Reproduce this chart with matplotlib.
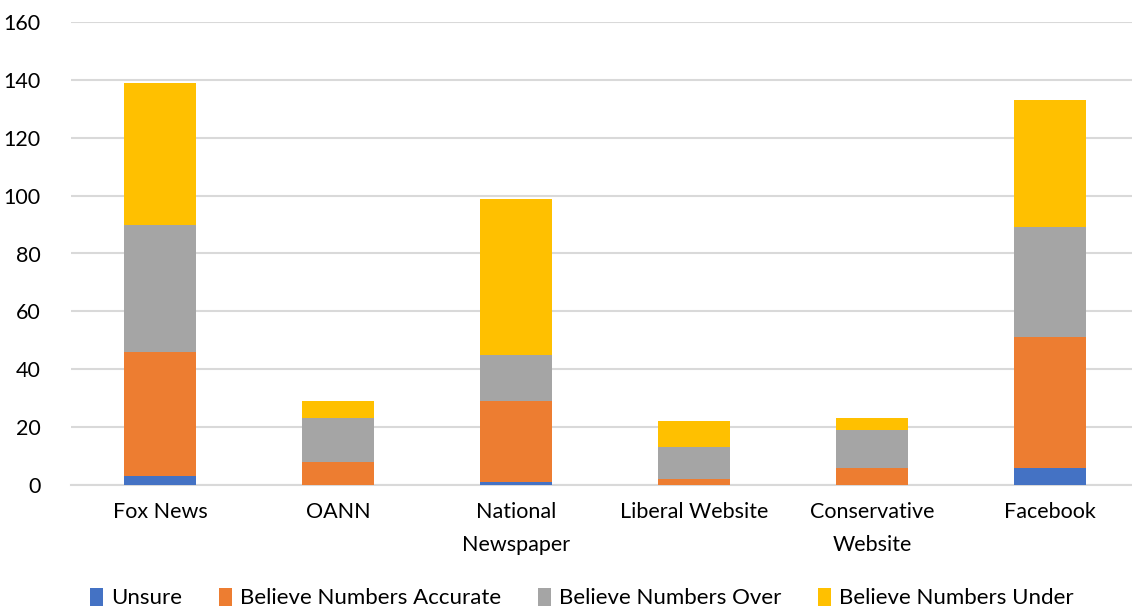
import matplotlib
matplotlib.use("Agg")
import matplotlib.pyplot as plt
import numpy as np

categories = ["Fox News", "OANN", "National\nNewspaper", "Liberal Website", "Conservative\nWebsite", "Facebook"]
unsure = [3, 0, 1, 0, 0, 6]
accurate = [43, 8, 28, 2, 6, 45]
over = [44, 15, 16, 11, 13, 38]
under = [49, 6, 54, 9, 4, 44]
series_names = ["Unsure", "Believe Numbers Accurate", "Believe Numbers Over", "Believe Numbers Under"]
colors = ["#4472C4", "#ED7D31", "#A5A5A5", "#FFC000"]

plt.rcParams['font.family'] = ['Lato', 'DejaVu Sans']

fig = plt.figure(figsize=(11.32, 6.10), dpi=100)
ax = fig.add_axes([71/1132, 1-485/610, 1-71/1132, (485-22)/610])

x = np.arange(len(categories))
bottom = np.zeros(len(categories))
for name, vals, c in zip(series_names, [unsure, accurate, over, under], colors):
    ax.bar(x, vals, 0.405, bottom=bottom, color=c, label=name, zorder=3)
    bottom += np.array(vals)

ax.set_ylim(0, 160)
ax.set_xlim(-0.5, 5.46)
ax.set_yticks(range(0, 161, 20))
ax.yaxis.grid(True, color="#d9d9d9", linewidth=1.5, zorder=0)
for s in ["top", "right", "left"]:
    ax.spines[s].set_visible(False)
ax.spines["bottom"].set_color("#d9d9d9")
ax.spines["bottom"].set_linewidth(1.5)
ax.tick_params(axis="both", length=0, labelsize=15.5, colors="#000000")
ax.tick_params(axis="y", pad=22)
ax.tick_params(axis="x", pad=12)
ax.set_xticks(x)
ax.set_xticklabels(categories, linespacing=1.85)

handles, labels = ax.get_legend_handles_labels()
fig.legend(handles, labels, loc="center", bbox_to_anchor=(0.514, 1-598/610), ncol=4,
           frameon=False, fontsize=16, handlelength=0.6, handleheight=0.9, handletextpad=0.35,
           columnspacing=1.65)

fig.savefig("out.png", dpi=100)
